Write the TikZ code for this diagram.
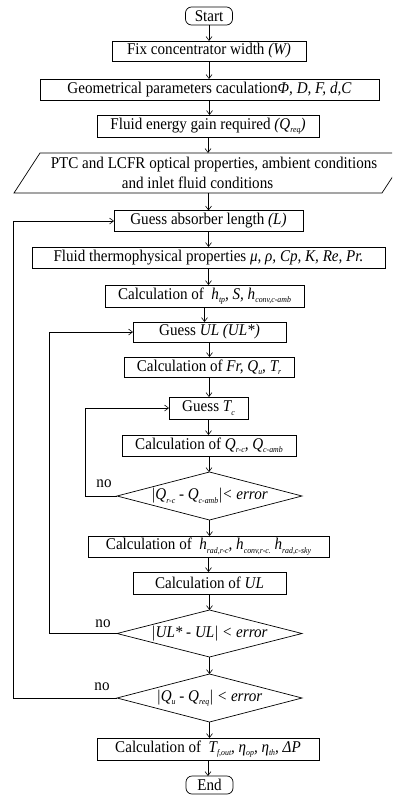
\documentclass[tikz,border=0pt]{standalone}
\usepackage{fontspec}
\setmainfont{Liberation Serif}[FakeStretch=0.92]
\usetikzlibrary{shapes.geometric,arrows.meta}
\newcommand\lo[1]{\raisebox{-0.45ex}{\fontsize{8.5}{9}\selectfont\textit{#1}}}
\tikzset{
  box/.style={draw, line width=0.7pt, inner sep=0pt, outer sep=0pt, font=\fontsize{16.4}{18}\selectfont},
  term/.style={box, rounded corners=6pt},
  dec/.style={draw, line width=0.7pt, shape=diamond, aspect=3.85, inner sep=0pt, outer sep=0pt, font=\fontsize{16.4}{18}\selectfont},
  lbl/.style={inner sep=0pt, font=\fontsize{16.4}{18}\selectfont},
  arr/.style={line width=0.6pt, -{Straight Barb[length=4pt,width=6pt]}},
  ln/.style={line width=0.7pt}
}
\begin{document}
\begin{tikzpicture}[x=1pt,y=-1pt]
\clip (0,0) rectangle (392,795);
\node[term, minimum width=47pt, minimum height=18pt] (start) at (209,16) {Start};
\node[box, minimum width=194pt, minimum height=20pt] (fix) at (209,51) {Fix concentrator width \textit{(W)}};
\node[box, minimum width=339pt, minimum height=21pt] (geom) at (209.5,89.5) {Geometrical parameters caculation\textit{Φ, D, F, d,C}};
\node[box, minimum width=222pt, minimum height=22pt] (gain) at (208,126) {Fluid energy gain required \textit{(Q\lo{req})}};
\node[lbl, align=center, minimum height=40pt, font=\fontsize{16.4}{20}\selectfont] (io) at (214,173) {PTC and LCFR optical properties, ambient conditions\\and inlet fluid conditions\hspace*{33pt}};
\draw[ln] (40,153) -- (408,153) -- (382,193) -- (14,193) -- cycle;
\node[box, minimum width=189pt, minimum height=21pt] (guessL) at (208.5,221) {Guess absorber length \textit{(L)}};
\node[box, minimum width=353pt, minimum height=21pt] (thermo) at (208.5,257.5) {Fluid thermophysical properties \textit{μ, ρ, Cp, K, Re, Pr.}};
\node[box, minimum width=199pt, minimum height=22pt] (calch) at (204.5,296) {Calculation of \ \textit{h\lo{tp}, S, h\lo{conv,c-amb}}};
\node[box, minimum width=153pt, minimum height=20pt] (guessUL) at (209.5,332) {Guess \textit{UL (UL*)}};
\node[box, minimum width=170pt, minimum height=20pt] (calcFr) at (209,367) {Calculation of \textit{Fr, Q\lo{u}, T\lo{r}}};
\node[box, minimum width=79pt, minimum height=22pt] (guessTc) at (208.5,408) {Guess \textit{T\lo{c}}};
\node[box, minimum width=174pt, minimum height=21pt] (calcQ) at (209,445.5) {Calculation of \textit{Q\lo{r-c}, Q\lo{c-amb}}};
\node[dec, minimum width=185pt, minimum height=48pt] (d1) at (209.5,496) {\textit{|Q\lo{r-c} - Q\lo{c-amb}|< error}};
\node[box, minimum width=241pt, minimum height=21pt] (calcHr) at (208.5,546.5) {Calculation of \ \textit{h\lo{rad,r-c}, h\lo{conv,r-c.} h\lo{rad,c-sky}}};
\node[box, minimum width=153pt, minimum height=22pt] (calcUL) at (209.5,583) {Calculation of \textit{UL}};
\node[dec, minimum width=185pt, minimum height=47pt] (d2) at (209.5,633.5) {\textit{|UL* - UL| < error}};
\node[dec, minimum width=185pt, minimum height=48pt] (d3) at (209.5,698) {\textit{|Q\lo{u} - Q\lo{req}| < error}};
\node[box, minimum width=222pt, minimum height=22pt] (final) at (208,749) {Calculation of \ \textit{T\lo{f,out}, η\lo{op}, η\lo{th}, ΔP}};
\node[term, minimum width=47pt, minimum height=18pt] (end) at (209.5,785) {End};
\coordinate (ioin) at (208.5,153);
\coordinate (ioout) at (208.5,193);
\foreach \a/\b in {start/fix, fix/geom, geom/gain, guessL/thermo, thermo/calch, calch/guessUL, guessUL/calcFr, calcFr/guessTc, guessTc/calcQ, calcQ/d1, d1/calcHr, calcHr/calcUL, calcUL/d2, d2/d3, d3/final, final/end}
  \draw[arr] (\a.south) -- (\a.south |- \b.north);
\draw[arr] (gain.south) -- (gain.south |- ioin);
\draw[arr] (ioout) -- (ioout |- guessL.north);
\draw[arr] (d1.west) -- ++(-32,0) |- (guessTc.west);
\draw[arr] (d2.west) -- ++(-68,0) |- (guessUL.west);
\draw[arr] (d3.west) -- ++(-104,0) |- (guessL.west);
\node[lbl] (no1) at (104,484) {no};
\node[lbl] (no2) at (103,624) {no};
\node[lbl] (no3) at (102,687) {no};
\end{tikzpicture}
\end{document}
